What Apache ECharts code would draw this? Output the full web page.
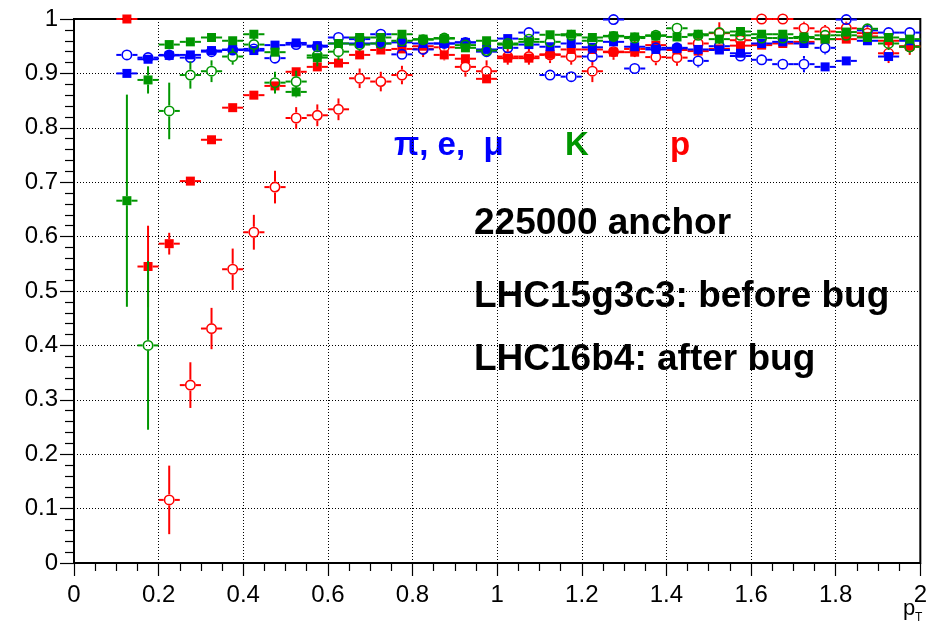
<!DOCTYPE html>
<html><head><meta charset="utf-8">
<script src="https://cdn.jsdelivr.net/npm/echarts@6/dist/echarts.min.js"></script>
<style>html,body{margin:0;padding:0;background:#fff}#c{width:930px;height:626px}</style>
</head><body><div id="c"></div>
<script>
// bin centres (pT)
const binCenters = [0.125,0.175,0.225,0.275,0.325,0.375,0.425,0.475,0.525,0.575,0.625,0.675,0.725,0.775,0.825,0.875,0.925,0.975,1.025,1.075,1.125,1.175,1.225,1.275,1.325,1.375,1.425,1.475,1.525,1.575,1.625,1.675,1.725,1.775,1.825,1.875,1.925,1.975];

// p, filled (before bug)
const pBefore    = [1.0,0.545,0.587,0.702,0.778,0.837,0.860,0.877,0.903,0.912,0.919,0.934,0.943,0.945,0.950,0.934,0.927,0.890,0.928,0.928,0.935,0.944,0.944,0.939,0.939,0.952,0.943,0.941,0.945,0.951,0.952,0.955,0.958,0.963,0.963,0.968,0.960,0.950];
const pBeforeErr = [0,0.075,0.02,0.006,0.006,0.005,0.005,0.005,0.005,0.005,0.005,0.006,0.006,0.006,0.007,0.01,0.008,0.008,0.008,0.008,0.008,0.008,0.008,0.008,0.008,0.008,0.008,0.008,0.008,0.008,0.008,0.008,0.008,0.008,0.008,0.008,0.008,0.01];
// p, open (after bug)
const pAfter     = [null,null,0.116,0.327,0.431,0.540,0.608,0.691,0.818,0.823,0.834,0.891,0.885,0.897,0.945,0.948,0.912,0.904,0.931,0.931,0.934,0.931,0.904,0.940,0.945,0.930,0.929,0.955,0.974,0.961,1.0,1.0,0.983,0.977,0.983,0.974,0.937,0.949];
const pAfterErr  = [0,0,0.063,0.042,0.038,0.038,0.032,0.03,0.02,0.02,0.02,0.018,0.018,0.017,0.015,0.015,0.018,0.02,0.015,0.015,0.015,0.015,0.02,0.015,0.015,0.015,0.015,0.015,0.02,0.015,0,0,0.012,0.012,0.012,0.015,0.018,0.015];
// K, filled (before bug)
const kBefore    = [0.666,0.888,0.953,0.958,0.966,0.960,0.972,0.939,0.866,0.929,0.955,0.966,0.966,0.972,0.963,0.964,0.947,0.960,0.953,0.958,0.971,0.972,0.966,0.969,0.967,0.969,0.967,0.972,0.963,0.977,0.972,0.972,0.967,0.963,0.976,0.966,0.966,0.963];
const kBeforeErr = [0.195,0.025,0.008,0.006,0.006,0.006,0.005,0.006,0.01,0.008,0.006,0.005,0.005,0.005,0.005,0.005,0.005,0.005,0.005,0.005,0.005,0.005,0.005,0.005,0.005,0.005,0.005,0.005,0.005,0.005,0.005,0.005,0.005,0.005,0.005,0.005,0.005,0.005];
// K, open (after bug)
const kAfter     = [null,0.400,0.831,0.897,0.904,0.931,0.953,0.883,0.885,0.933,0.940,0.953,0.955,0.960,0.962,0.965,0.952,0.942,0.955,0.963,0.958,0.970,0.960,0.968,0.965,0.970,0.983,0.970,0.975,0.970,0.965,0.965,0.965,0.970,0.970,0.982,0.955,0.949];
const kAfterErr  = [0,0.155,0.052,0.025,0.02,0.015,0.015,0.02,0.02,0.02,0.015,0.012,0.01,0.01,0.01,0.01,0.01,0.01,0.01,0.01,0.01,0.01,0.01,0.01,0.01,0.01,0.01,0.01,0.01,0.01,0.01,0.01,0.01,0.01,0.01,0.01,0.012,0.012];
// pi,e,mu filled (before bug)
const piBefore    = [0.900,0.926,0.933,0.934,0.942,0.944,0.942,0.952,0.956,0.951,0.955,0.955,0.955,0.957,0.955,0.955,0.957,0.944,0.964,0.953,0.949,0.955,0.948,0.958,0.949,0.944,0.946,0.944,0.943,0.937,0.955,0.958,0.955,0.912,0.923,0.960,0.931,0.960];
const piBeforeErr = [0.003,0.004,0.004,0.004,0.004,0.004,0.004,0.004,0.004,0.004,0.004,0.004,0.004,0.004,0.004,0.004,0.004,0.004,0.004,0.004,0.004,0.004,0.004,0.004,0.004,0.004,0.004,0.004,0.004,0.004,0.004,0.004,0.004,0.004,0.004,0.004,0.006,0.004];
// pi,e,mu open (after bug)
const piAfter     = [0.934,0.929,0.934,0.929,0.940,0.943,0.945,0.928,0.953,0.949,0.966,0.963,0.972,0.935,0.944,0.955,0.957,0.940,0.947,0.975,0.897,0.894,0.931,0.999,0.909,0.947,0.947,0.923,0.950,0.932,0.925,0.917,0.917,0.947,0.999,0.979,0.975,0.975];
const piAfterErr  = [0.004,0.005,0.005,0.005,0.005,0.005,0.006,0.006,0.006,0.006,0.006,0.006,0.006,0.008,0.008,0.008,0.008,0.008,0.008,0.008,0.01,0.01,0.008,0,0.008,0.008,0.008,0.012,0.008,0.01,0.008,0.01,0.015,0.012,0,0.008,0.01,0.008];

const BLUE='#0000ff', GREEN='#009600', RED='#ff0000';
const HALF_BIN = 0.025;

function errSeries(name, ys, errs, color, marker) {
  const data = [];
  binCenters.forEach((x,i)=>{ if (ys[i] != null) data.push([x, ys[i], errs[i]]); });
  return {
    type:'custom', name, data, clip:false, silent:true,
    renderItem(params, api){
      const x=api.value(0), y=api.value(1), e=api.value(2);
      const c=api.coord([x,y]);
      const l=api.coord([x-HALF_BIN,y]), r=api.coord([x+HALF_BIN,y]);
      const t=api.coord([x,y+e]), b=api.coord([x,y-e]);
      const rad = marker==='circle' ? 5.5 : 4.5;
      const ls = {stroke:color, lineWidth:2};
      const ch = [];
      ch.push({type:'line',shape:{x1:l[0],y1:c[1],x2:c[0]-rad,y2:c[1]},style:ls});
      ch.push({type:'line',shape:{x1:c[0]+rad,y1:c[1],x2:r[0],y2:c[1]},style:ls});
      if (c[1]-t[1] > rad) ch.push({type:'line',shape:{x1:c[0],y1:t[1],x2:c[0],y2:c[1]-rad},style:ls});
      if (b[1]-c[1] > rad) ch.push({type:'line',shape:{x1:c[0],y1:c[1]+rad,x2:c[0],y2:b[1]},style:ls});
      if (marker==='circle') {
        ch.push({type:'circle',shape:{cx:c[0],cy:c[1],r:rad-0.8},style:{fill:null,stroke:color,lineWidth:1.6}});
      } else {
        ch.push({type:'rect',shape:{x:c[0]-rad,y:c[1]-rad,width:2*rad,height:2*rad},style:{fill:color}});
      }
      return {type:'group',children:ch};
    }
  };
}

const chart = echarts.init(document.getElementById('c'), null, {renderer:'canvas'});
const FONT = 'Liberation Sans';
chart.setOption({
  animation:false,
  backgroundColor:'#fff',
  grid:{left:74, top:19, right:6, bottom:63, show:true, borderColor:'#000', borderWidth:2, backgroundColor:'transparent'},
  xAxis:{
    type:'value', min:0, max:2, interval:0.2,
    axisLine:{onZero:false, lineStyle:{color:'#000', width:1.5}},
    axisTick:{length:13, lineStyle:{color:'#000', width:1.2}},
    minorTick:{show:true, splitNumber:4, length:8, lineStyle:{color:'#000', width:1.2}},
    splitLine:{show:true, lineStyle:{color:'#000', width:1, type:[1,2]}},
    axisLabel:{color:'#000', fontFamily:FONT, fontSize:24, margin:20, showMaxLabel:true,
      formatter:v=>String(Math.round(v*10)/10)}
  },
  yAxis:{
    type:'value', min:0, max:1, interval:0.1,
    axisLine:{onZero:false, lineStyle:{color:'#000', width:1.5}},
    axisTick:{length:14, lineStyle:{color:'#000', width:1.2}},
    minorTick:{show:true, splitNumber:5, length:9, lineStyle:{color:'#000', width:1.2}},
    splitLine:{show:true, lineStyle:{color:'#000', width:1, type:[1,2]}},
    axisLabel:{color:'#000', fontFamily:FONT, fontSize:24, margin:16,
      formatter:v=>String(Math.round(v*10)/10)}
  },
  series:[
    errSeries('p after', pAfter, pAfterErr, RED, 'circle'),
    errSeries('p before', pBefore, pBeforeErr, RED, 'square'),
    errSeries('pi after', piAfter, piAfterErr, BLUE, 'circle'),
    errSeries('pi before', piBefore, piBeforeErr, BLUE, 'square'),
    errSeries('K after', kAfter, kAfterErr, GREEN, 'circle'),
    errSeries('K before', kBefore, kBeforeErr, GREEN, 'square')
  ],
  graphic:[
    {type:'text', left:394, top:129, style:{text:'π, e,  μ', fill:BLUE, font:'bold 33px "Liberation Sans"'}},
    {type:'text', left:565, top:129, style:{text:'K', fill:GREEN, font:'bold 33px "Liberation Sans"'}},
    {type:'text', left:670, top:129, style:{text:'p', fill:RED, font:'bold 33px "Liberation Sans"'}},
    {type:'text', left:474, top:205, style:{text:'225000 anchor', fill:'#000', font:'bold 37px "Liberation Sans"'}},
    {type:'text', left:474, top:278, style:{text:'LHC15g3c3: before bug', fill:'#000', font:'bold 37px "Liberation Sans"'}},
    {type:'text', left:474, top:341, style:{text:'LHC16b4: after bug', fill:'#000', font:'bold 37px "Liberation Sans"'}},
    {type:'text', left:903, top:598, style:{text:'p', fill:'#000', font:'22px "Liberation Sans"'}},
    {type:'text', left:915, top:612, style:{text:'T', fill:'#000', font:'12px "Liberation Sans"'}}
  ]
});
</script>
</body></html>
